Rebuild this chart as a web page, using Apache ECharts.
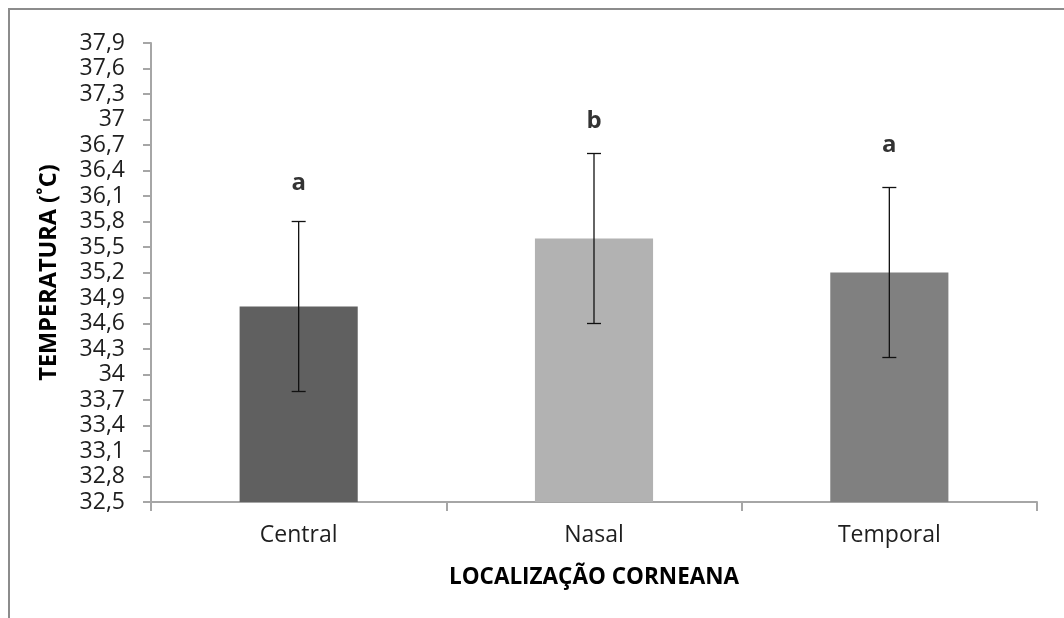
<!DOCTYPE html>
<html>
<head>
<meta charset="utf-8">
<script src="https://cdn.jsdelivr.net/npm/echarts@6/dist/echarts.min.js"></script>
<style>
  html, body { margin: 0; padding: 0; background: #ffffff; }
  #frame { position: absolute; left: 8px; top: 8px; width: 1100px; height: 700px; border: 2px solid #8c8c8c; box-sizing: border-box; }
  #chart { position: absolute; left: 0; top: 0; width: 1064px; height: 618px; }
</style>
</head>
<body>
<div id="frame"></div>
<div id="chart"></div>
<script>
// Corneal temperature by location (mean ± deviation, °C)
const categories = ['Central', 'Nasal', 'Temporal'];
const meanTemp = [34.8, 35.6, 35.2];
const deviation = [1.0, 1.0, 1.0];
const barColors = ['#606060', '#b2b2b2', '#808080'];
const groupLetters = ['a', 'b', 'a'];
const letterLevel = [36.25, 36.98, 36.7];
const yMin = 32.5, yMax = 37.9, yStep = 0.3;

const chart = echarts.init(document.getElementById('chart'));
const fontUI = '"Open Sans", "Noto Sans", sans-serif';

chart.setOption({
  animation: false,
  backgroundColor: 'transparent',
  grid: { left: 151, right: 27, top: 43, bottom: 116, containLabel: false },
  xAxis: {
    type: 'category',
    data: categories,
    name: 'LOCALIZAÇÃO CORNEANA',
    nameLocation: 'middle',
    nameGap: 64,
    nameTextStyle: { fontFamily: fontUI, fontWeight: 'bold', fontSize: 22.5, color: '#000' },
    axisLine: { lineStyle: { color: '#a6a6a6', width: 2 } },
    axisTick: { show: true, length: 9, alignWithLabel: false, lineStyle: { color: '#a6a6a6', width: 2 } },
    axisLabel: { margin: 22, fontFamily: fontUI, fontSize: 23, color: '#1e1e1e' }
  },
  yAxis: {
    type: 'value',
    min: yMin, max: yMax, interval: yStep,
    name: 'TEMPERATURA (˚C)',
    nameLocation: 'middle',
    nameRotate: 90,
    nameGap: 90,
    nameTextStyle: { fontFamily: fontUI, fontWeight: 'bold', fontSize: 23.5, color: '#000' },
    axisLine: { show: true, lineStyle: { color: '#a6a6a6', width: 2 } },
    axisTick: { show: true, length: 8, lineStyle: { color: '#a6a6a6', width: 2 } },
    splitLine: { show: false },
    axisLabel: {
      margin: 26, fontFamily: fontUI, fontSize: 23, color: '#1e1e1e',
      formatter: v => String(Math.round(v * 10) / 10).replace('.', ',')
    }
  },
  series: [
    {
      type: 'bar',
      barWidth: '40%',
      data: meanTemp.map((v, i) => ({ value: v, itemStyle: { color: barColors[i] } })),
      z: 2
    },
    {
      type: 'custom',
      z: 3,
      data: meanTemp.map((v, i) => [i, v - deviation[i], v + deviation[i]]),
      renderItem: function (params, api) {
        const x = api.value(0);
        const lo = api.coord([x, api.value(1)]);
        const hi = api.coord([x, api.value(2)]);
        const cap = 7;
        const style = { stroke: '#111', lineWidth: 1.3 };
        return {
          type: 'group',
          children: [
            { type: 'line', shape: { x1: hi[0], y1: hi[1], x2: lo[0], y2: lo[1] }, style },
            { type: 'line', shape: { x1: hi[0] - cap, y1: hi[1], x2: hi[0] + cap, y2: hi[1] }, style },
            { type: 'line', shape: { x1: lo[0] - cap, y1: lo[1], x2: lo[0] + cap, y2: lo[1] }, style }
          ]
        };
      }
    },
    {
      type: 'scatter',
      symbolSize: 0,
      z: 4,
      data: letterLevel.map((v, i) => ({ value: [i, v], name: groupLetters[i] })),
      label: {
        show: true,
        position: 'inside',
        formatter: p => p.name,
        fontFamily: fontUI, fontWeight: 'bold', fontSize: 24, color: '#000'
      }
    }
  ]
});
</script>
</body>
</html>
